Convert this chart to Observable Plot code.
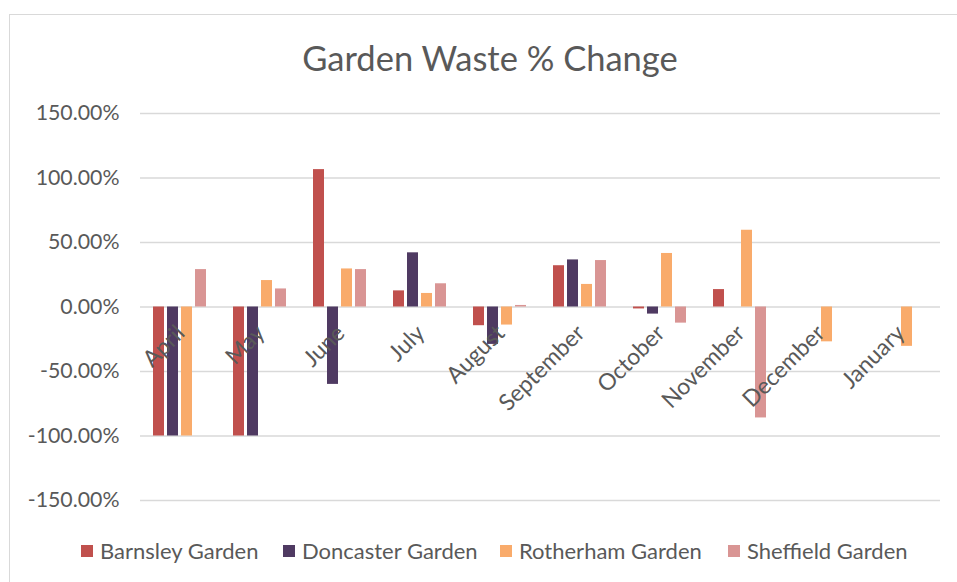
<!DOCTYPE html>
<html>
<head>
<meta charset="utf-8">
<script src="https://cdn.jsdelivr.net/npm/d3@7"></script>
<script src="https://cdn.jsdelivr.net/npm/@observablehq/plot@0.6"></script>
<style>
  html, body { margin: 0; padding: 0; background: #fff; }
  body { width: 957px; height: 582px; position: relative; overflow: hidden; font-family: Lato, "Open Sans", sans-serif; color: #595959; }
  #frame { position: absolute; left: 9px; top: 14px; width: 960px; height: 600px; border: 1.5px solid #d9d9d9; box-sizing: border-box; }
  #title { position: absolute; left: 0; width: 980px; top: 37px; text-align: center; font-size: 34.5px; color: #595959; }
  #chart { position: absolute; left: 0; top: 0; }
  #legend { position: absolute; top: 537px; left: 81px; font-size: 22px; color: #595959; }
  #legend .item { display: flex; align-items: center; position: absolute; white-space: nowrap; }
  #legend .sw { width: 12px; height: 12px; margin-right: 7px; }
</style>
</head>
<body>
<div id="frame"></div>
<div id="title">Garden Waste % Change</div>
<div id="chart"></div>
<div id="legend"></div>
<script>
const months = ["April","May","June","July","August","September","October","November","December","January"];
const seriesNames = ["Barnsley Garden","Doncaster Garden","Rotherham Garden","Sheffield Garden"];
const colors = ["#C0504D","#4F3A62","#F9AB6B","#D99594"];
const barnsley  = [-1.00, -1.00, 1.065, 0.125, -0.145, 0.32, -0.015, 0.135, null, null];
const doncaster = [-1.00, -1.00, -0.60, 0.42, -0.29, 0.365, -0.055, null, null, null];
const rotherham = [-1.00, 0.205, 0.295, 0.105, -0.14, 0.175, 0.415, 0.595, -0.27, -0.305];
const sheffield = [0.29, 0.14, 0.29, 0.18, 0.012, 0.36, -0.125, -0.86, null, null];
const yTicks = [-1.5, -1, -0.5, 0, 0.5, 1, 1.5];

const seriesValues = [barnsley, doncaster, rotherham, sheffield];
const data = [];
months.forEach((m, i) => {
  seriesNames.forEach((s, j) => {
    const v = seriesValues[j][i];
    if (v !== null) data.push({month: m, series: s, value: v});
  });
});

const pct = d => (d * 100).toFixed(2) + "%";

const chart = Plot.plot({
  width: 957,
  height: 520,
  marginLeft: 140,
  marginRight: 17,
  marginTop: 113,
  marginBottom: 20,
  style: {fontFamily: "Lato, 'Open Sans', sans-serif", color: "#595959", background: "transparent", overflow: "visible"},
  fx: {domain: months, paddingInner: 0, paddingOuter: 0, axis: null, label: null},
  x: {domain: seriesNames, paddingInner: 0.2, paddingOuter: 0.82, axis: null, label: null},
  y: {domain: [-1.5, 1.5], label: null, axis: null},
  color: {domain: seriesNames, range: colors},
  marks: [
    Plot.ruleY(yTicks, {y: d => d, stroke: "#d9d9d9", strokeWidth: 1.5}),
    Plot.axisY(yTicks, {tickFormat: pct, tickSize: 0, tickPadding: 21, fontSize: 21.3, fill: "#595959", label: null}),
    Plot.barY(data, {fx: "month", x: "series", y: "value", fill: "series"}),
    Plot.text(months, {fx: d => d, y: 0, text: d => d, rotate: -45, textAnchor: "end", lineAnchor: "top", dx: -6, dy: 16, fontSize: 23, fill: "#595959"})
  ]
});
document.getElementById("chart").appendChild(chart);

const legendX = [81, 283, 500, 728];
const legend = document.getElementById("legend");
seriesNames.forEach((s, i) => {
  const item = document.createElement("div");
  item.className = "item";
  item.style.left = (legendX[i] - 81) + "px";
  const sw = document.createElement("span");
  sw.className = "sw";
  sw.style.background = colors[i];
  const t = document.createElement("span");
  t.textContent = s;
  item.appendChild(sw);
  item.appendChild(t);
  legend.appendChild(item);
});
</script>
</body>
</html>
